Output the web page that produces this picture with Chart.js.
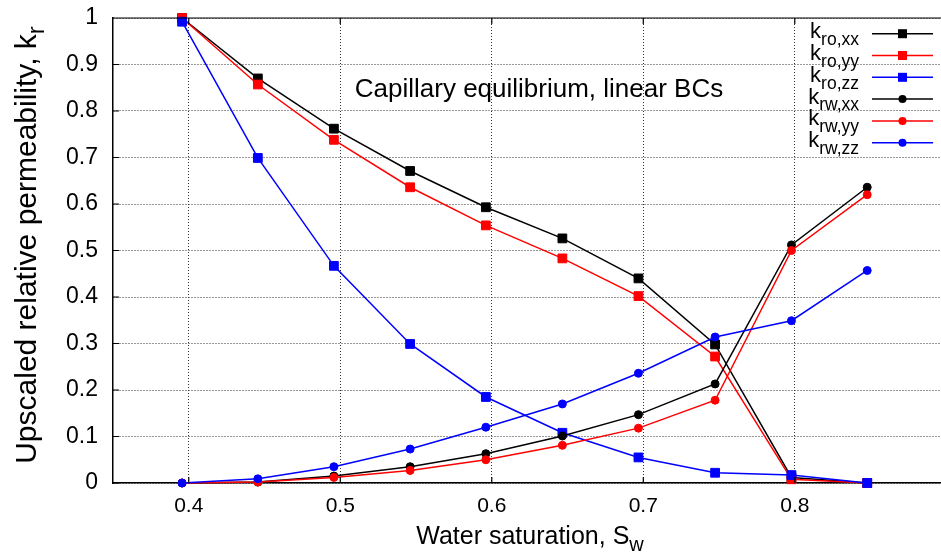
<!DOCTYPE html>
<html>
<head>
<meta charset="utf-8">
<script src="https://cdn.jsdelivr.net/npm/chart.js@4.4.1/dist/chart.umd.min.js"></script>
<style>
  html, body { margin: 0; padding: 0; background: #fff; overflow: hidden; }
  #wrap { width: 941px; height: 554px; }
</style>
</head>
<body>
<div id="wrap"><canvas id="krChart" width="941" height="554"></canvas></div>
<script>
// water saturation of each upscaled point
const sw = [0.3956, 0.4456, 0.4958, 0.5461, 0.5961, 0.6466, 0.6968, 0.7474, 0.7978, 0.8478];

// oil relative permeability
const kroXX = [1.000, 0.870, 0.762, 0.671, 0.593, 0.526, 0.440, 0.298, 0.012, 0.000];
const kroYY = [1.000, 0.857, 0.738, 0.636, 0.554, 0.483, 0.402, 0.272, 0.008, 0.000];
const kroZZ = [0.992, 0.699, 0.467, 0.299, 0.185, 0.108, 0.055, 0.022, 0.017, 0.000];

// water relative permeability
const krwXX = [0.000, 0.002, 0.015, 0.035, 0.063, 0.101, 0.147, 0.213, 0.512, 0.636];
const krwYY = [0.000, 0.002, 0.012, 0.027, 0.050, 0.081, 0.118, 0.178, 0.500, 0.620];
const krwZZ = [0.000, 0.009, 0.035, 0.073, 0.120, 0.170, 0.236, 0.314, 0.349, 0.457];

const xTicks = [0.4, 0.5, 0.6, 0.7, 0.8];
const yTicks = [0, 0.1, 0.2, 0.3, 0.4, 0.5, 0.6, 0.7, 0.8, 0.9, 1];

const FONT = "'Liberation Sans', Arial, Helvetica, sans-serif";

function toPoints(ys) {
  return sw.map((x, i) => ({ x: x, y: ys[i] }));
}

// label is drawn as "k" + subscript
function makeSeries(sub, ys, color, style, order) {
  const isRect = style === "rect";
  return {
    label: "k" + sub,
    sub: sub,
    data: toPoints(ys),
    borderColor: color,
    backgroundColor: color,
    borderWidth: 1.5,
    pointStyle: style,
    pointRadius: isRect ? 6.2 : 4,
    pointHoverRadius: isRect ? 6.2 : 4,
    pointBorderWidth: 1,
    showLine: true,
    tension: 0,
    clip: false,
    order: order
  };
}

const datasets = [
  makeSeries("ro,xx", kroXX, "#000000", "rect", 5),
  makeSeries("ro,yy", kroYY, "#ff0000", "rect", 4),
  makeSeries("ro,zz", kroZZ, "#0000ff", "rect", 3),
  makeSeries("rw,xx", krwXX, "#000000", "circle", 2),
  makeSeries("rw,yy", krwYY, "#ff0000", "circle", 1),
  makeSeries("rw,zz", krwZZ, "#0000ff", "circle", 0)
];

// text with a subscript part
function subText(ctx, main, sub, x, y, size, align) {
  ctx.font = size + "px " + FONT;
  const mw = ctx.measureText(main).width;
  ctx.font = (size * 0.8) + "px " + FONT;
  const sw2 = ctx.measureText(sub).width;
  const total = mw + sw2;
  let x0 = x;
  if (align === "right") x0 = x - total;
  if (align === "center") x0 = x - total / 2;
  ctx.textAlign = "left";
  ctx.textBaseline = "alphabetic";
  ctx.font = size + "px " + FONT;
  ctx.fillText(main, x0, y);
  ctx.font = (size * 0.8) + "px " + FONT;
  ctx.fillText(sub, x0 + mw, y + size * 0.28);
}

const decorPlugin = {
  id: "decor",
  afterDraw(chart) {
    const ctx = chart.ctx;
    const area = chart.chartArea;
    const xs = chart.scales.x;
    const ys = chart.scales.y;
    ctx.save();
    ctx.fillStyle = "#000";
    ctx.strokeStyle = "#000";

    // top border and inward tick marks
    ctx.lineWidth = 1.2;
    ctx.beginPath();
    ctx.moveTo(area.left, area.top);
    ctx.lineTo(area.right, area.top);
    xTicks.forEach(v => {
      const px = xs.getPixelForValue(v);
      ctx.moveTo(px, area.bottom);
      ctx.lineTo(px, area.bottom - 6);
      ctx.moveTo(px, area.top);
      ctx.lineTo(px, area.top + 6);
    });
    yTicks.forEach(v => {
      const py = ys.getPixelForValue(v);
      ctx.moveTo(area.left, py);
      ctx.lineTo(area.left + 6, py);
    });
    ctx.stroke();

    // annotation
    ctx.font = "26px " + FONT;
    ctx.textAlign = "center";
    ctx.textBaseline = "alphabetic";
    ctx.fillText("Capillary equilibrium, linear BCs", 539, 97);

    // x axis title
    subText(ctx, "Water saturation, S", "w", 530, 544, 25, "center");

    // y axis title
    ctx.save();
    ctx.translate(36, 245);
    ctx.rotate(-Math.PI / 2);
    subText(ctx, "Upscaled relative permeability, k", "r", 0, 0, 30, "center");
    ctx.restore();

    // legend
    chart.data.datasets.forEach((ds, i) => {
      const ly = 33.7 + i * 21.8;
      ctx.fillStyle = "#000";
      ctx.font = "22px " + FONT;
      const mw = ctx.measureText("k").width;
      ctx.font = "17.5px " + FONT;
      const sw3 = ctx.measureText(ds.sub).width;
      ctx.textAlign = "left";
      ctx.textBaseline = "alphabetic";
      ctx.font = "22px " + FONT;
      ctx.fillText("k", 859 - sw3 - mw, ly + 4.5);
      ctx.font = "17.5px " + FONT;
      ctx.fillText(ds.sub, 859 - sw3, ly + 11.3);

      ctx.strokeStyle = ds.borderColor;
      ctx.fillStyle = ds.borderColor;
      ctx.lineWidth = 1.5;
      ctx.beginPath();
      ctx.moveTo(872, ly);
      ctx.lineTo(933, ly);
      ctx.stroke();
      ctx.beginPath();
      if (ds.pointStyle === "rect") {
        ctx.rect(902.5 - 4.5, ly - 4.5, 9, 9);
      } else {
        ctx.arc(902.5, ly, 4, 0, Math.PI * 2);
      }
      ctx.fill();
    });
    ctx.restore();
  }
};

const ctx = document.getElementById("krChart").getContext("2d");
new Chart(ctx, {
  type: "scatter",
  data: { datasets: datasets },
  options: {
    responsive: false,
    animation: false,
    devicePixelRatio: 1,
    layout: { autoPadding: false, padding: { top: 18, left: 0, right: 0, bottom: 0 } },
    plugins: {
      legend: { display: false },
      tooltip: { enabled: false }
    },
    scales: {
      x: {
        type: "linear",
        min: 0.35,
        max: 0.8965,
        afterFit: s => { s.height = 71; },
        afterBuildTicks: s => { s.ticks = xTicks.map(v => ({ value: v })); },
        ticks: {
          includeBounds: false,
          font: { family: FONT, size: 21 },
          color: "#000",
          padding: 11,
          maxRotation: 0,
          callback: v => v.toFixed(1)
        },
        grid: { color: "#333", lineWidth: 1, drawTicks: false },
        border: { display: true, color: "#000", width: 1.5, dash: [1, 2] }
      },
      y: {
        type: "linear",
        min: 0,
        max: 1,
        afterFit: s => { s.width = 113; },
        afterBuildTicks: s => { s.ticks = yTicks.map(v => ({ value: v })); },
        ticks: {
          font: { family: FONT, size: 23 },
          color: "#000",
          padding: 4,
          callback: v => (v === 0 || v === 1) ? String(v) : v.toFixed(1)
        },
        grid: { color: "#333", lineWidth: 1, drawTicks: true, tickLength: 11, tickColor: "rgba(0,0,0,0)" },
        border: { display: true, color: "#000", width: 1.5, dash: [1, 2] }
      }
    }
  },
  plugins: [decorPlugin]
});
</script>
</body>
</html>
